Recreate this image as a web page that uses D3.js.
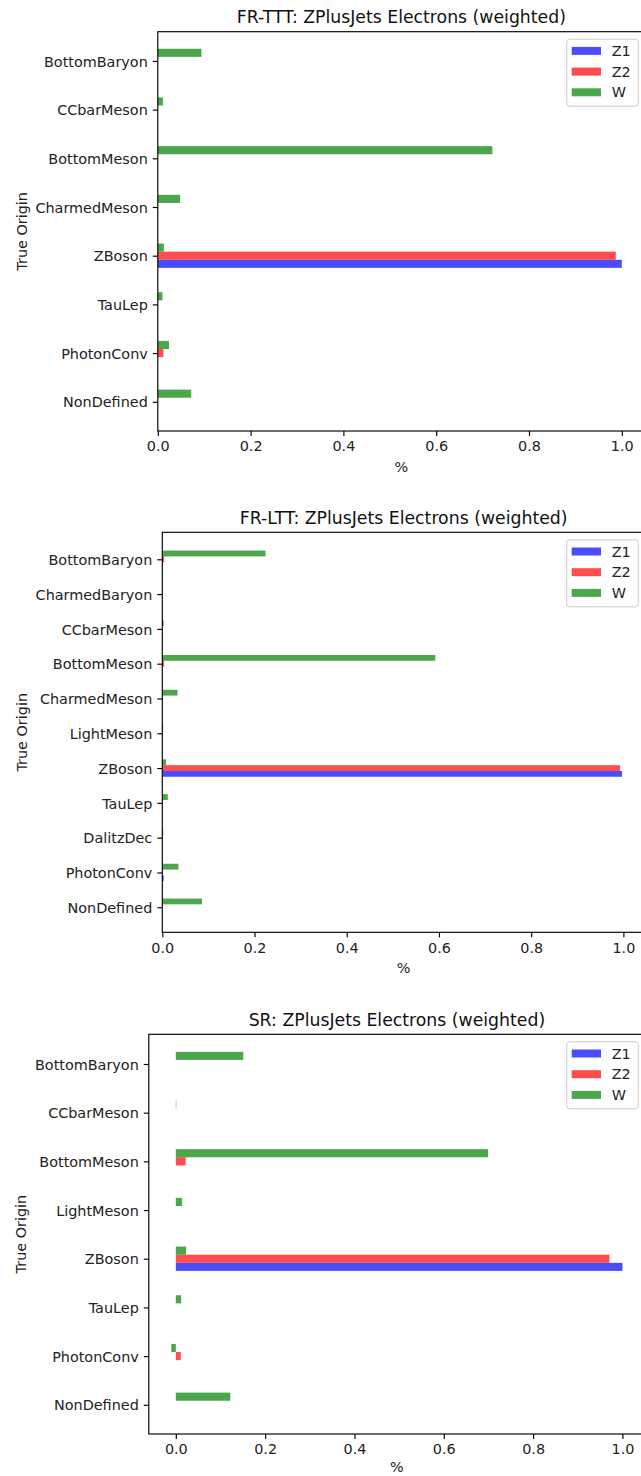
<!DOCTYPE html>
<html>
<head>
<meta charset="utf-8">
<script src="https://cdn.jsdelivr.net/npm/d3@7"></script>
<style>
  html, body { margin: 0; padding: 0; background: #fff; }
  svg { display: block; font-family: "DejaVu Sans", sans-serif; }
</style>
</head>
<body>
<svg id="fig" width="641" height="1476"></svg>
<script>
// ---------------- data ----------------
const seriesNames = ["Z1", "Z2", "W"];
const xTicks = [0.0, 0.2, 0.4, 0.6, 0.8, 1.0];

const titleTTT = "FR-TTT: ZPlusJets Electrons (weighted)";
const categoriesTTT = ["NonDefined", "PhotonConv", "TauLep", "ZBoson", "CharmedMeson", "BottomMeson", "CCbarMeson", "BottomBaryon"];
const z1TTT = [0, 0, 0, 1.000, 0, 0, 0, 0];
const z2TTT = [0, 0.012, 0, 0.987, 0, 0, 0, 0];
const wTTT  = [0.072, 0.024, 0.010, 0.013, 0.048, 0.721, 0.011, 0.094];

const titleLTT = "FR-LTT: ZPlusJets Electrons (weighted)";
const categoriesLTT = ["NonDefined", "PhotonConv", "DalitzDec", "TauLep", "ZBoson", "LightMeson", "CharmedMeson", "BottomMeson", "CCbarMeson", "CharmedBaryon", "BottomBaryon"];
const z1LTT = [0, 0.003, 0, 0, 0.997, 0, 0, 0, 0, 0, 0];
const z2LTT = [0, 0, 0, 0, 0.993, 0, 0, 0.004, 0, 0, 0.004];
const wLTT  = [0.086, 0.035, 0.002, 0.012, 0.008, 0.002, 0.033, 0.592, 0.003, 0, 0.224];

const titleSR = "SR: ZPlusJets Electrons (weighted)";
const categoriesSR = ["NonDefined", "PhotonConv", "TauLep", "ZBoson", "LightMeson", "BottomMeson", "CCbarMeson", "BottomBaryon"];
const z1SR = [0, 0, 0, 1.000, 0, 0, 0, 0];
const z2SR = [0, 0.011, 0, 0.971, 0, 0.022, 0, 0];
const wSR  = [0.122, -0.010, 0.012, 0.023, 0.014, 0.699, 0.001, 0.151];

// ---------------- style / layout ----------------
const colors = ["#0000ff", "#ff0000", "#008000"];
const barAlpha = 0.7;
const tickFont = 14.4, titleFont = 17.3;
const tickLen = 5, tickPad = 5;
const axRight = 645;
const figH = 1476;

const panels = [
  { title: titleTTT, cats: categoriesTTT, series: [z1TTT, z2TTT, wTTT], left: 157.8, top: 31.7,  bottom: 431.0, padLo: 0.60, padHi: 0.60 },
  { title: titleLTT, cats: categoriesLTT, series: [z1LTT, z2LTT, wLTT], left: 162.3, top: 532.3, bottom: 932.3, padLo: 0.72, padHi: 0.776 },
  { title: titleSR,  cats: categoriesSR,  series: [z1SR, z2SR, wSR],    left: 148.8, top: 1034.3, bottom: 1434.0, padLo: 0.60, padHi: 0.61 }
];

const svg = d3.select("#fig");
const barW = 0.5 / seriesNames.length;

panels.forEach(p => {
  const g = svg.append("g");
  const all = p.series.flat();
  const dmin = Math.min(0, d3.min(all)), dmax = d3.max(all);
  const span = dmax - dmin;
  const xmin = d3.min(all) < 0 ? dmin - 0.05 * span : 0;
  const xmax = dmax + 0.05 * span;
  const x = d3.scaleLinear().domain([xmin, xmax]).range([p.left, axRight]);
  const n = p.cats.length;
  const y = d3.scaleLinear().domain([-p.padLo, n - 1 + p.padHi]).range([p.bottom, p.top]);

  // bars
  p.series.forEach((vals, si) => {
    const off = (si - 1) * barW;
    g.append("g").selectAll("rect").data(vals).join("rect")
      .attr("x", d => x(Math.min(0, d)))
      .attr("width", d => Math.abs(x(d) - x(0)))
      .attr("y", (d, i) => y(i + off + barW / 2))
      .attr("height", (d, i) => y(i + off - barW / 2) - y(i + off + barW / 2))
      .attr("fill", colors[si])
      .attr("fill-opacity", barAlpha);
  });

  // spines
  g.append("rect")
    .attr("x", p.left).attr("y", p.top)
    .attr("width", axRight - p.left).attr("height", p.bottom - p.top)
    .attr("fill", "none").attr("stroke", "#000").attr("stroke-width", 1.15);

  // x axis
  const xAxis = d3.axisBottom(x).tickValues(xTicks).tickFormat(d3.format(".1f"))
    .tickSize(tickLen).tickPadding(tickPad);
  const xa = g.append("g").attr("transform", `translate(0,${p.bottom})`).call(xAxis);
  xa.select(".domain").remove();
  xa.selectAll(".tick line").attr("stroke", "#000").attr("stroke-width", 1.15);
  xa.selectAll(".tick text").attr("font-size", tickFont).attr("fill", "#222")
    .attr("font-family", "DejaVu Sans").attr("dy", "0.72em");

  // y axis
  const yAxis = d3.axisLeft(y).tickValues(d3.range(n)).tickFormat(i => p.cats[i])
    .tickSize(tickLen).tickPadding(tickPad);
  const ya = g.append("g").attr("transform", `translate(${p.left},0)`).call(yAxis);
  ya.select(".domain").remove();
  ya.selectAll(".tick line").attr("stroke", "#000").attr("stroke-width", 1.15);
  ya.selectAll(".tick text").attr("font-size", tickFont).attr("fill", "#222")
    .attr("font-family", "DejaVu Sans").attr("dy", "0.36em");

  // y label
  const bb = ya.node().getBBox();
  const labLeft = p.left + bb.x;
  g.append("text")
    .attr("transform", `translate(${labLeft - 14},${(p.top + p.bottom) / 2}) rotate(-90)`)
    .attr("text-anchor", "middle").attr("dy", "0.36em")
    .attr("font-size", tickFont).attr("fill", "#222")
    .text("True Origin");

  // x label (kept fully inside the figure)
  g.append("text")
    .attr("x", (p.left + axRight) / 2).attr("y", Math.min(p.bottom + 41, figH - 4))
    .attr("text-anchor", "middle")
    .attr("font-size", tickFont).attr("fill", "#222")
    .text("%");

  // title
  g.append("text")
    .attr("x", (p.left + axRight) / 2).attr("y", p.top - 8.7)
    .attr("text-anchor", "middle")
    .attr("font-size", titleFont).attr("fill", "#111")
    .text(p.title);

  // legend
  const lx = 566.7, ly = p.top + 7.5, lw = 71.6, lh = 67;
  const lg = g.append("g");
  lg.append("rect").attr("x", lx).attr("y", ly).attr("width", lw).attr("height", lh)
    .attr("rx", 3).attr("fill", "#fff").attr("fill-opacity", 0.8)
    .attr("stroke", "#cccccc").attr("stroke-width", 1);
  seriesNames.forEach((s, si) => {
    const cy = ly + 11.7 + si * 20.7;
    lg.append("rect").attr("x", lx + 5).attr("y", cy - 4).attr("width", 29.3).attr("height", 8)
      .attr("fill", colors[si]).attr("fill-opacity", barAlpha);
    lg.append("text").attr("x", lx + 45).attr("y", cy).attr("dy", "0.36em")
      .attr("font-size", tickFont).attr("fill", "#222").text(s);
  });
});
</script>
</body>
</html>
